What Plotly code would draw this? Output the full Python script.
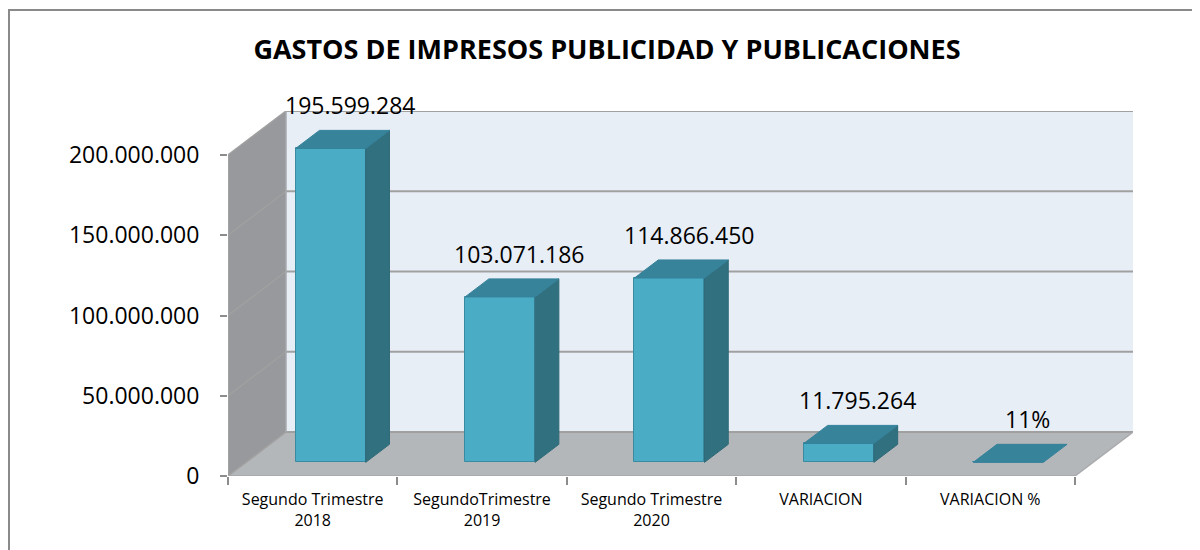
import plotly.graph_objects as go

# ---------------- data ----------------
categories = ["Segundo Trimestre<br>2018", "SegundoTrimestre<br>2019",
              "Segundo Trimestre<br>2020", "VARIACION", "VARIACION %"]
values = [195599284, 103071186, 114866450, 11795264, 0.11]
value_labels = ["195.599.284", "103.071.186", "114.866.450", "11.795.264", "11%"]
tick_values = [0, 50000000, 100000000, 150000000, 200000000]
tick_labels = ["0", "50.000.000", "100.000.000", "150.000.000", "200.000.000"]
title_text = "GASTOS DE IMPRESOS PUBLICIDAD Y PUBLICACIONES"

# ---------------- geometry (pseudo 3D) ----------------
OFF = 8                      # page body margin
W, H = 1200 - OFF, 550 - OFF
ML, MR, MT, MB = 228 - OFF, 67, 111 - OFF, 74
PW, PH = W - ML - MR, H - MT - MB
DEPTH_PX_X, DEPTH_PX_Y = 58, 44
n = len(categories)
YMAX = tick_values[-1]
px_per_val = (PH - DEPTH_PX_Y) / YMAX
px_per_cat = (PW - DEPTH_PX_X) / n
DX = DEPTH_PX_X / px_per_cat
DY = DEPTH_PX_Y / px_per_val
D0, D1 = 0.31, 0.72          # bar front / back depth fractions
BW = 70 / px_per_cat         # bar width in category units
dd = D1 - D0

FRONT = "#4BACC6"
SIDE = "#31707F"
TOP = "#37849A"
EDGE = "#3A8BA1"
GRID = "#A0A0A0"
FONT = "Open Sans"

fig = go.Figure()

shapes = []
# back wall
shapes.append(dict(type="rect", xref="x", yref="y", x0=DX, x1=n + DX, y0=DY, y1=YMAX + DY,
                   fillcolor="#E8EEF6", line=dict(width=0), layer="below"))
# left wall
shapes.append(dict(type="path", xref="x", yref="y",
                   path=f"M 0,0 L {DX},{DY} L {DX},{YMAX + DY} L 0,{YMAX} Z",
                   fillcolor="#97999C", line=dict(width=0), layer="below"))
# floor
shapes.append(dict(type="path", xref="x", yref="y",
                   path=f"M 0,0 L {n},0 L {n + DX},{DY} L {DX},{DY} Z",
                   fillcolor="#B4B7BA", line=dict(width=0), layer="below"))
# gridlines on back and left walls
for v in tick_values:
    shapes.append(dict(type="line", xref="x", yref="y", x0=0, y0=v, x1=DX, y1=v + DY,
                       line=dict(color=GRID, width=1.5), layer="below"))
    shapes.append(dict(type="line", xref="x", yref="y", x0=DX, y0=v + DY, x1=n + DX, y1=v + DY,
                       line=dict(color=GRID, width=2), layer="below"))
# wall edges
shapes.append(dict(type="line", xref="x", yref="y", x0=DX, y0=DY, x1=DX, y1=YMAX + DY,
                   line=dict(color="#A8AAAD", width=1.5), layer="below"))
shapes.append(dict(type="line", xref="x", yref="y", x0=n, y0=0, x1=n + DX, y1=DY,
                   line=dict(color="#A8AAAD", width=1.5), layer="below"))
shapes.append(dict(type="line", xref="x", yref="y", x0=0, y0=0, x1=0, y1=YMAX,
                   line=dict(color="#A6A6A6", width=1.5), layer="below"))
shapes.append(dict(type="line", xref="x", yref="y", x0=0, y0=0, x1=n, y1=0,
                   line=dict(color="#A6A6A6", width=1.5), layer="below"))
# outer chart border
bx0 = (1 - ML) / PW
by1 = (H - MB - 2) / PH
shapes.append(dict(type="rect", xref="paper", yref="paper", x0=bx0, x1=1.5, y0=-0.6, y1=by1,
                   line=dict(color="#8A8A8A", width=2), fillcolor="rgba(0,0,0,0)", layer="below"))

base0 = D0 * DY
centers = [i + 0.5 + D0 * DX for i in range(n)]

# side and top faces
for i, v in enumerate(values):
    cx = centers[i]
    xl, xr = cx - BW / 2, cx + BW / 2
    b = base0
    if v > 1:
        fig.add_trace(go.Scatter(
            x=[xr, xr + dd * DX, xr + dd * DX, xr, xr],
            y=[b, b + dd * DY, b + v + dd * DY, b + v, b],
            fill="toself", fillcolor=SIDE, mode="lines",
            line=dict(color="#2E6978", width=1), hoverinfo="skip", showlegend=False))
    fig.add_trace(go.Scatter(
        x=[xl, xr, xr + dd * DX, xl + dd * DX, xl],
        y=[b + v, b + v, b + v + dd * DY, b + v + dd * DY, b + v],
        fill="toself", fillcolor=TOP, mode="lines",
        line=dict(color="#34809A", width=1), hoverinfo="skip", showlegend=False))

# front faces
fig.add_trace(go.Bar(x=centers, y=values, base=[base0] * n, width=BW,
                     marker=dict(color=FRONT, line=dict(color=EDGE, width=1)),
                     showlegend=False, hoverinfo="skip"))

# data labels
annotations = []
for i, v in enumerate(values):
    annotations.append(dict(x=centers[i] + dd * DX * 0.8, y=base0 + v + dd * DY, xref="x", yref="y",
                            text=value_labels[i], showarrow=False, yanchor="bottom", yshift=7,
                            font=dict(family=FONT, size=23, color="#000000")))

fig.update_layout(
    width=W, height=H,
    margin=dict(l=ML, r=MR, t=MT, b=MB, autoexpand=False),
    paper_bgcolor="white", plot_bgcolor="white",
    shapes=shapes, annotations=annotations,
    bargap=0,
    title=dict(text=f"<b>{title_text}</b>", xref="container", yref="container",
               x=(607 - OFF) / W, y=1 - (50 - OFF) / H, xanchor="center", yanchor="middle",
               font=dict(family=FONT, size=27, color="#000000")),
    xaxis=dict(range=[0, n + DX], tickmode="array",
               tickvals=[i + 0.5 for i in range(n)], ticktext=categories,
               ticks="", showgrid=False, zeroline=False, showline=False,
               ticklabelstandoff=12, automargin=False,
               tickfont=dict(family=FONT, size=16, color="#000000"),
               minor=dict(tickmode="array", tickvals=list(range(n + 1)), ticks="outside",
                          ticklen=8, tickcolor="#8C8C8C", tickwidth=1.5, showgrid=False),
               fixedrange=True),
    yaxis=dict(range=[0, YMAX + DY], tickmode="array", tickvals=tick_values, ticktext=tick_labels,
               ticks="outside", ticklen=7, tickcolor="#8C8C8C", tickwidth=1.5,
               ticklabelstandoff=16, automargin=False,
               showgrid=False, zeroline=False, showline=False,
               tickfont=dict(family=FONT, size=23, color="#000000"), fixedrange=True),
)

fig.write_html("out.html")
